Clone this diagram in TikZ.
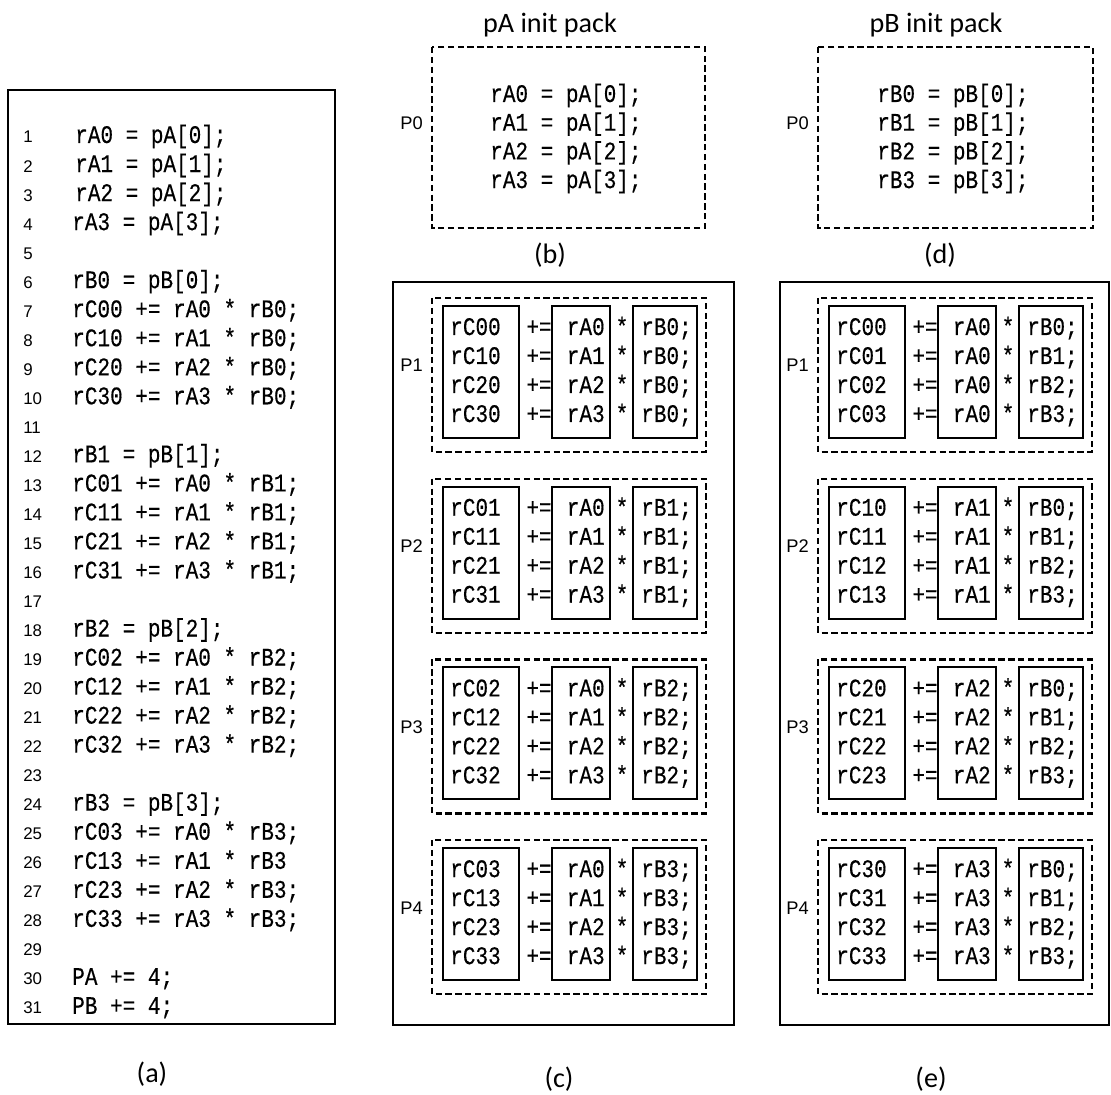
\documentclass[tikz,border=0pt]{standalone}
\usepackage{fontspec}
\setmainfont{Carlito}
\newfontfamily\codefont[FakeStretch=0.83, FakeBold=0.4]{Liberation Mono}
\newfontfamily\labfont{Liberation Sans}
\usetikzlibrary{positioning}

\tikzset{
  code/.style={font=\codefont\fontsize{18}{21}\selectfont, inner sep=0pt},
  lnum/.style={font=\labfont\fontsize{12}{14}\selectfont, inner sep=0pt, anchor=base west},
  plabel/.style={font=\labfont\fontsize{13}{15}\selectfont, inner sep=0pt, anchor=base east},
  caption/.style={font=\fontsize{20}{24}\selectfont, inner sep=0pt},
  packbox/.style={draw, line width=1.6pt, dash pattern=on 4.5pt off 2.5pt},
  colbox/.style={draw, line width=1.4pt},
  outerbox/.style={draw, line width=1.4pt}
}

\begin{document}
\begin{tikzpicture}[x=0.025cm, y=-0.025cm]
\useasboundingbox (0,0) rectangle (1111,1095);

% (a) unrolled listing
\draw[outerbox] (8,90) rectangle (335,1024);
\foreach \txt [count=\i] in {rA0 = pA[0];, rA1 = pA[1];, rA2 = pA[2];, rA3 = pA[3];, {},
  rB0 = pB[0];, rC00 += rA0 * rB0;, rC10 += rA1 * rB0;, rC20 += rA2 * rB0;, rC30 += rA3 * rB0;, {},
  rB1 = pB[1];, rC01 += rA0 * rB1;, rC11 += rA1 * rB1;, rC21 += rA2 * rB1;, rC31 += rA3 * rB1;, {},
  rB2 = pB[2];, rC02 += rA0 * rB2;, rC12 += rA1 * rB2;, rC22 += rA2 * rB2;, rC32 += rA3 * rB2;, {},
  rB3 = pB[3];, rC03 += rA0 * rB3;, rC13 += rA1 * rB3, rC23 += rA2 * rB3;, rC33 += rA3 * rB3;, {},
  PA += 4;, PB += 4;}{
  \pgfmathsetmacro{\cx}{\i<4 ? 75 : 72}
  \node[lnum] (n\i) at (23, 143+29.03*\i-29.03) {\i};
  \node[code, anchor=base west] (l\i) at (\cx, 143+29.03*\i-29.03) {\txt};
}
\node[caption] (capA) at (152,1074) {(a)};

% (b) pA init pack
\node[caption, anchor=base] (titleA) at (550,33) {pA init pack};
\draw[packbox] (432,47) rectangle (705,228);
\node[plabel] (pzA) at (423,130) {P0};
\foreach \k in {0,...,3}
  \node[code, anchor=base west] (ia\k) at (490, 102+28.7*\k) {rA\k{} = pA[\k];};
\node[caption] (capB) at (550,255) {(b)};

% (d) pB init pack
\node[caption, anchor=base] (titleB) at (936,33) {pB init pack};
\draw[packbox] (818,47) rectangle (1093,228);
\node[plabel] (pzB) at (809,130) {P0};
\foreach \k in {0,...,3}
  \node[code, anchor=base west] (ib\k) at (877, 102+28.7*\k) {rB\k{} = pB[\k];};
\node[caption] (capD) at (940,255) {(d)};

% (c) packs along B columns
\draw[outerbox] (393,282) rectangle (734,1025);
\foreach \k in {0,...,3}{
  \pgfmathsetmacro{\ty}{298+180.7*\k}
  \pgfmathtruncatemacro{\pn}{\k+1}
  \draw[packbox] (432,\ty) rectangle (706,\ty+154);
  \node[plabel] (pc\k) at (423,\ty+74) {P\pn};
  \draw[colbox] (443,\ty+8) rectangle (519,\ty+140);
  \draw[colbox] (552,\ty+8) rectangle (610,\ty+140);
  \draw[colbox] (633,\ty+8) rectangle (697,\ty+140);
  \foreach \j in {0,...,3}{
    \node[code, anchor=base west] (cC\k\j) at (450, \ty+37+29*\j) {rC\j\k};
    \node[code, anchor=base] (cP\k\j) at (539, \ty+37+29*\j) {+=};
    \node[code, anchor=base east] (cA\k\j) at (605, \ty+37+29*\j) {rA\j};
    \node[code, anchor=base] (cS\k\j) at (622, \ty+37+29*\j) {*};
    \node[code, anchor=base west] (cB\k\j) at (641, \ty+37+29*\j) {rB\k;};
  }
}
\node[caption] (capC) at (559,1079) {(c)};

% (e) packs along A rows
\draw[outerbox] (780,282) rectangle (1109,1025);
\foreach \k in {0,...,3}{
  \pgfmathsetmacro{\ty}{298+180.7*\k}
  \pgfmathtruncatemacro{\pn}{\k+1}
  \draw[packbox] (818,\ty) rectangle (1092,\ty+154);
  \node[plabel] (pe\k) at (809,\ty+74) {P\pn};
  \draw[colbox] (829,\ty+8) rectangle (905,\ty+140);
  \draw[colbox] (938,\ty+8) rectangle (996,\ty+140);
  \draw[colbox] (1019,\ty+8) rectangle (1083,\ty+140);
  \foreach \j in {0,...,3}{
    \node[code, anchor=base west] (eC\k\j) at (836, \ty+37+29*\j) {rC\k\j};
    \node[code, anchor=base] (eP\k\j) at (925, \ty+37+29*\j) {+=};
    \node[code, anchor=base east] (eA\k\j) at (991, \ty+37+29*\j) {rA\k};
    \node[code, anchor=base] (eS\k\j) at (1008, \ty+37+29*\j) {*};
    \node[code, anchor=base west] (eB\k\j) at (1027, \ty+37+29*\j) {rB\j;};
  }
}
\node[caption] (capE) at (931,1079) {(e)};
\end{tikzpicture}
\end{document}
